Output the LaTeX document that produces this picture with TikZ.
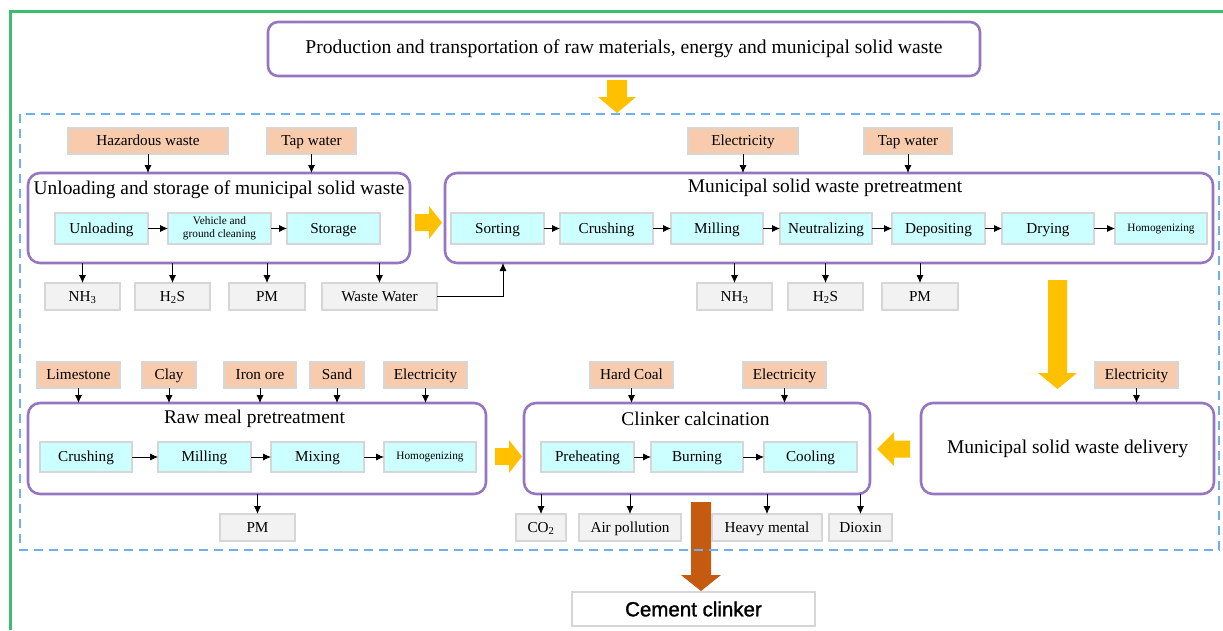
\documentclass[tikz,border=0pt]{standalone}
\usepackage{fontspec}
\setmainfont{Liberation Serif}
\newfontfamily\cemfont[FakeBold=1.4]{Liberation Sans}
\usetikzlibrary{arrows.meta}
\definecolor{grpc}{RGB}{150,118,192}
\definecolor{peach}{HTML}{F8CBAD}
\definecolor{cyanb}{HTML}{CCFFFF}
\definecolor{outf}{HTML}{F2F2F2}
\definecolor{bord}{HTML}{D6D6D6}
\definecolor{dashc}{RGB}{110,175,240}
\definecolor{greenc}{RGB}{60,190,110}
\definecolor{yel}{HTML}{FFC000}
\definecolor{brn}{HTML}{C55A11}
\newcommand\bx[7]{\node[#1,minimum width={(#5)-(#3)},minimum height={(#6)-(#4)}] (#2) at ({((#3)+(#5))/2},{((#4)+(#6))/2}) {#7};}
\newcommand\darr[6]{\fill[#1] ({#2-#3/2},#5) -- ({#2+#3/2},#5) -- ({#2+#3/2},{#6-16}) -- ({#2+#4/2},{#6-16}) -- (#2,#6) -- ({#2-#4/2},{#6-16}) -- ({#2-#3/2},{#6-16}) -- cycle;}
\begin{document}
\begin{tikzpicture}[x=1pt,y=-1pt,
  every node/.style={inner sep=0pt,outer sep=0pt},
  grp/.style={draw=grpc,line width=2.6pt,rounded corners=12pt,fill=white},
  bfont/.style={font=\fontsize{15.2}{17}\selectfont,text height=10.5pt,text depth=1.5pt},
  inbox/.style={draw=bord,line width=1.2pt,fill=peach,bfont},
  proc/.style={draw=bord,line width=1.2pt,fill=cyanb,bfont},
  procs/.style={draw=bord,line width=1.2pt,fill=cyanb,font=\fontsize{11.3}{13}\selectfont,align=center},
  outbox/.style={draw=bord,line width=1.2pt,fill=outf,bfont},
  gtitle/.style={font=\fontsize{19.4}{22}\selectfont},
  arr/.style={-{Latex[length=8pt,width=7pt]},line width=0.8pt,black}]
\useasboundingbox (0,0) rectangle (1223,630);
% frame
\draw[greenc,line width=3pt] (10.5,630) -- (10.5,11.5) -- (1223,11.5);
% brown arrow
\darr{brn}{701}{20}{40}{502}{591}
% dashed region
\draw[dashc,line width=1.8pt,dash pattern=on 9pt off 6pt] (20,114) rectangle (1219,550);
% top box
\bx{grp,rounded corners=10pt,font=\fontsize{19.6}{22}\selectfont}{top}{268}{22}{980}{76}{Production and transportation of raw materials, energy and municipal solid waste}
\darr{yel}{617}{20}{38}{80}{113}
% ---- row 1
\bx{inbox}{hw}{68}{128}{228}{154}{Hazardous waste}
\bx{inbox}{tw1}{267}{128}{356}{154}{Tap water}
\bx{inbox}{el1}{688}{128}{798}{154}{Electricity}
\bx{inbox}{tw2}{864}{128}{952}{154}{Tap water}
\bx{grp}{ug}{28}{173}{410}{263}{}
\bx{grp}{mp}{445}{173}{1213}{263}{}
\node[gtitle] (ugt) at (219,190) {Unloading and storage of municipal solid waste};
\node[gtitle] (mpt) at (825,188) {Municipal solid waste pretreatment};
\bx{proc}{un}{55}{213}{148}{244}{Unloading}
\bx{procs}{vc}{168}{213}{271}{244}{Vehicle and\\ground cleaning}
\bx{proc}{st}{287}{213}{380}{244}{Storage}
\bx{proc}{so}{451}{213}{544}{244}{Sorting}
\bx{proc}{cr1}{560}{213}{653}{244}{Crushing}
\bx{proc}{mi1}{671}{213}{763}{244}{Milling}
\bx{proc}{ne}{780}{213}{872}{244}{Neutralizing}
\bx{proc}{de}{892}{213}{985}{244}{Depositing}
\bx{proc}{dr}{1002}{213}{1094}{244}{Drying}
\bx{procs}{ho1}{1115}{213}{1207}{244}{Homogenizing}
\bx{outbox}{nh1}{45}{283}{120}{310}{NH\textsubscript{3}}
\bx{outbox}{hs1}{135}{283}{210}{310}{H\textsubscript{2}S}
\bx{outbox}{pm1}{229}{283}{305}{310}{PM}
\bx{outbox}{ww}{322}{283}{437}{310}{Waste Water}
\bx{outbox}{nh2}{697}{283}{772}{310}{NH\textsubscript{3}}
\bx{outbox}{hs2}{788}{283}{863}{310}{H\textsubscript{2}S}
\bx{outbox}{pm2}{882}{283}{958}{310}{PM}
\foreach \a/\b in {hw/ug,tw1/ug,el1/mp,tw2/mp} \draw[arr] (\a.south) -- (\a.south |- \b.north);
\foreach \a/\b in {un/vc,vc/st,so/cr1,cr1/mi1,mi1/ne,ne/de,de/dr,dr/ho1} \draw[arr] (\a.east) -- (\b.west);
\foreach \a/\b in {nh1/ug,hs1/ug,pm1/ug,ww/ug,nh2/mp,hs2/mp,pm2/mp} \draw[arr] (\a.north |- \b.south) -- (\a.north);
\coordinate (wwin) at (503,263);
\draw[arr] (ww.east) -| (wwin);
% right arrow 1
\fill[yel] (415,214) -- (429,214) -- (429,206) -- (442,222.5) -- (429,239) -- (429,231) -- (415,231) -- cycle;
% big down arrow
\darr{yel}{1057.5}{19}{39}{280}{389}
% ---- row 2
\bx{inbox}{ls}{37}{362}{120}{388}{Limestone}
\bx{inbox}{cl}{142}{362}{196}{388}{Clay}
\bx{inbox}{io}{224}{362}{296}{388}{Iron ore}
\bx{inbox}{sa}{310}{362}{364}{388}{Sand}
\bx{inbox}{el2}{384}{362}{467}{388}{Electricity}
\bx{inbox}{hc}{590}{362}{673}{388}{Hard Coal}
\bx{inbox}{el3}{743}{362}{826}{388}{Electricity}
\bx{inbox}{el4}{1095}{362}{1178}{388}{Electricity}
\bx{grp}{rm}{28}{403}{486}{494}{}
\bx{grp}{cc}{524}{403}{870}{494}{}
\bx{grp,font=\fontsize{19.5}{22}\selectfont}{dl}{921}{403}{1214}{494}{Municipal solid waste delivery}
\node[gtitle] (rmt) at (254.5,419) {Raw meal pretreatment};
\node[gtitle] (cct) at (695.5,419) {Clinker calcination};
\bx{proc}{cr2}{40}{442}{132}{472}{Crushing}
\bx{proc}{mi2}{158}{442}{251}{472}{Milling}
\bx{proc}{mx}{271}{442}{364}{472}{Mixing}
\bx{procs}{ho2}{384}{442}{476}{472}{Homogenizing}
\bx{proc}{ph}{541}{442}{634}{472}{Preheating}
\bx{proc}{bu}{651}{442}{743}{472}{Burning}
\bx{proc}{co}{764}{442}{857}{472}{Cooling}
\bx{outbox}{pm3}{220}{514}{295}{541}{PM}
\bx{outbox}{co2}{516}{514}{566}{541}{CO\textsubscript{2}}
\bx{outbox}{ap}{579}{514}{681}{541}{Air pollution}
\bx{outbox}{hm}{712}{514}{822}{541}{Heavy mental}
\bx{outbox}{dx}{829}{514}{892}{541}{Dioxin}
\foreach \a/\b in {ls/rm,cl/rm,io/rm,sa/rm,el2/rm,hc/cc,el3/cc,el4/dl} \draw[arr] (\a.south) -- (\a.south |- \b.north);
\foreach \a/\b in {cr2/mi2,mi2/mx,mx/ho2,ph/bu,bu/co} \draw[arr] (\a.east) -- (\b.west);
\foreach \a/\b in {pm3/rm,co2/cc,ap/cc,hm/cc,dx/cc} \draw[arr] (\a.north |- \b.south) -- (\a.north);
% right arrow 2 and left arrow
\fill[yel] (495,448) -- (509,448) -- (509,440) -- (522,456.5) -- (509,473) -- (509,465) -- (495,465) -- cycle;
\fill[yel] (910,440.5) -- (894,440.5) -- (894,432) -- (877,449) -- (894,466) -- (894,457.5) -- (910,457.5) -- cycle;
% cement clinker
\bx{draw=bord,line width=2.6pt,fill=white,font=\cemfont\fontsize{20.5}{24}\selectfont}{cem}{572}{592}{815}{626}{Cement clinker}
\end{tikzpicture}
\end{document}
